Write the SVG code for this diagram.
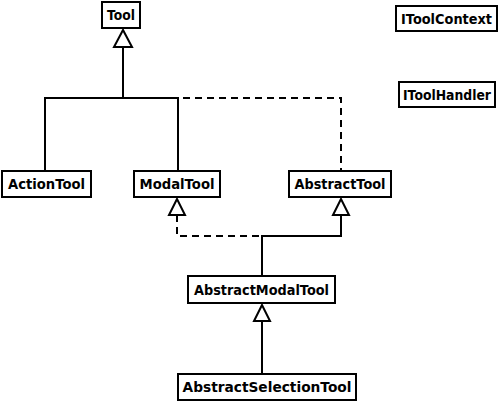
<svg xmlns="http://www.w3.org/2000/svg" width="502" height="403" viewBox="0 0 502 403">
<style>
.box{fill:#fff;stroke:#000;stroke-width:2}
.lbl{font-family:"DejaVu Sans",sans-serif;font-weight:bold;font-size:14px;fill:#000;text-anchor:middle}
.ln{fill:none;stroke:#000;stroke-width:2}
.dash{fill:none;stroke:#000;stroke-width:2;stroke-dasharray:7 5}
.tri{fill:#fff;stroke:#000;stroke-width:2;stroke-linejoin:miter}
</style>
<rect width="502" height="403" fill="#fff"/>
<g id="connectors">
<path class="ln" d="M123,47 V98 M45,171 V98 H178 V171"/>
<path class="dash" d="M123,98 H341 V171"/>
<path class="dash" d="M177,215 V236 H262"/>
<path class="ln" d="M262,276 V236 H341 V215"/>
<path class="ln" d="M262,321 V374"/>
<polygon class="tri" points="123,30 114,47 132,47"/>
<polygon class="tri" points="177,199 169,215 185,215"/>
<polygon class="tri" points="341,199 333,215 349,215"/>
<polygon class="tri" points="262,305 254,321 270,321"/>
</g>
<g id="Tool"><rect class="box" x="102" y="2" width="38" height="26"/><text class="lbl" x="121" y="20" textLength="28" lengthAdjust="spacingAndGlyphs">Tool</text></g>
<g id="IToolContext"><rect class="box" x="396" y="6" width="101" height="25"/><text class="lbl" x="446.5" y="23.5" textLength="91" lengthAdjust="spacingAndGlyphs">IToolContext</text></g>
<g id="IToolHandler"><rect class="box" x="399" y="82" width="96" height="25"/><text class="lbl" x="447" y="99.5" textLength="88" lengthAdjust="spacingAndGlyphs">IToolHandler</text></g>
<g id="ActionTool"><rect class="box" x="2" y="171" width="89" height="26"/><text class="lbl" x="46.5" y="189" textLength="77" lengthAdjust="spacingAndGlyphs">ActionTool</text></g>
<g id="ModalTool"><rect class="box" x="134" y="171" width="86" height="26"/><text class="lbl" x="177" y="189" textLength="75" lengthAdjust="spacingAndGlyphs">ModalTool</text></g>
<g id="AbstractTool"><rect class="box" x="289" y="171" width="102" height="26"/><text class="lbl" x="340" y="189" textLength="91" lengthAdjust="spacingAndGlyphs">AbstractTool</text></g>
<g id="AbstractModalTool"><rect class="box" x="188" y="276" width="147" height="27"/><text class="lbl" x="261.5" y="294.5" textLength="135" lengthAdjust="spacingAndGlyphs">AbstractModalTool</text></g>
<g id="AbstractSelectionTool"><rect class="box" x="178" y="374" width="178" height="26"/><text class="lbl" x="267" y="392" textLength="169" lengthAdjust="spacingAndGlyphs">AbstractSelectionTool</text></g>
</svg>
